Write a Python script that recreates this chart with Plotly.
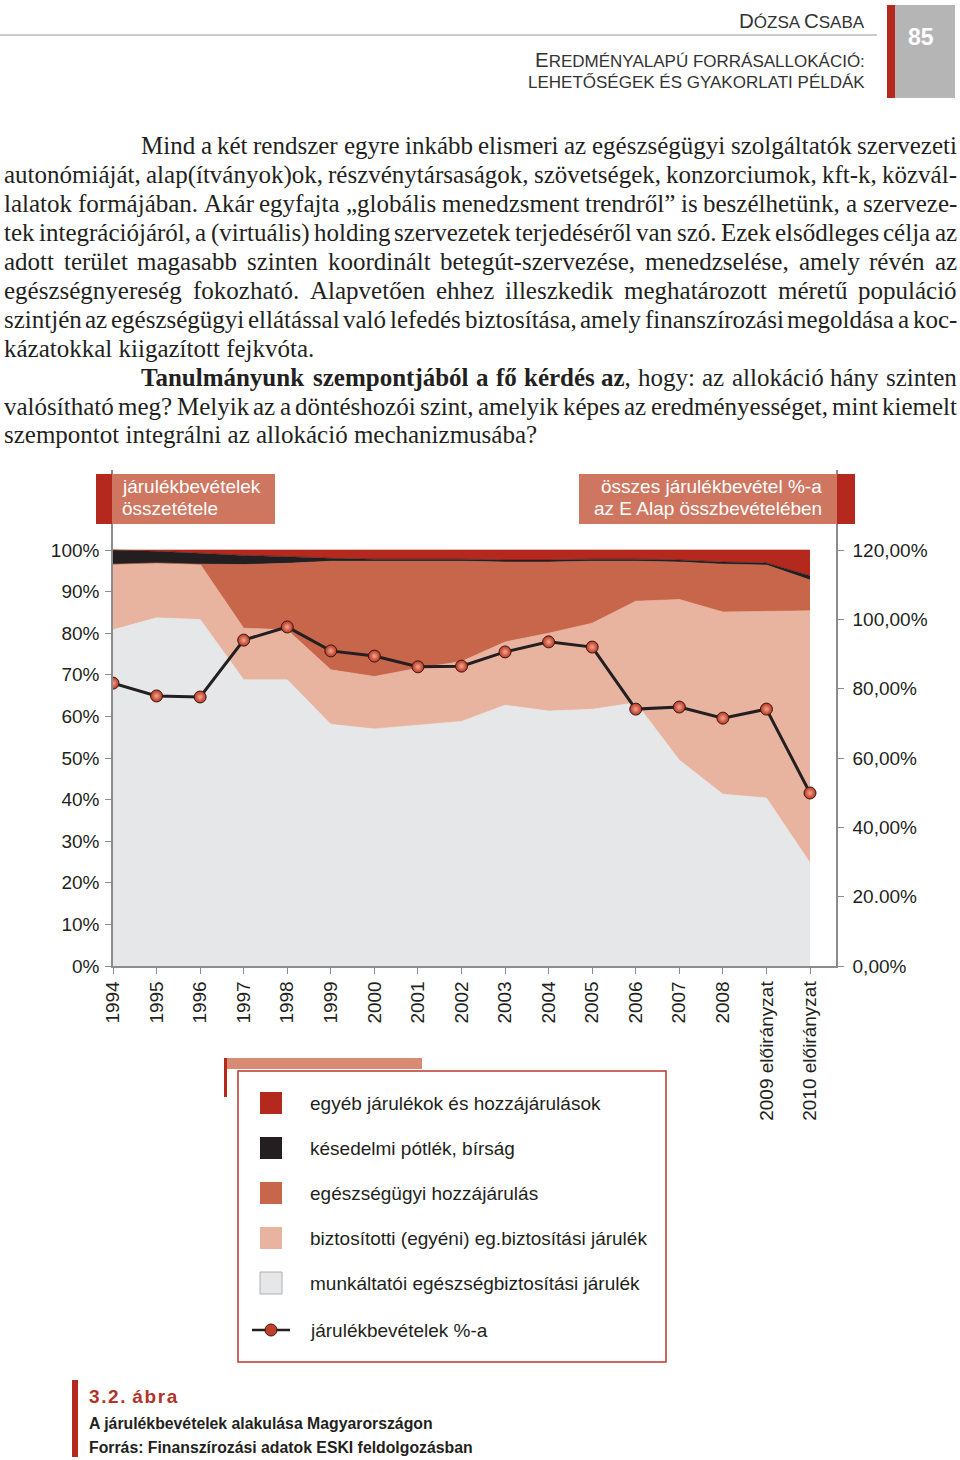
import unicodedata
import plotly.graph_objects as go

W, H = 960, 1460

# ---------------- data ----------------
years = ["1994", "1995", "1996", "1997", "1998", "1999", "2000", "2001", "2002",
         "2003", "2004", "2005", "2006", "2007", "2008",
         "2009 előirányzat", "2010 előirányzat"]
munkaltatoi = [80.8, 83.7, 83.3, 68.8, 68.8, 58.1, 57.0, 57.9, 58.8, 62.7, 61.3, 61.7, 63.3, 49.5, 41.3, 40.4, 24.8]
biztositotti = [15.8, 13.2, 13.3, 12.4, 12.0, 13.1, 12.6, 13.7, 14.4, 15.2, 18.7, 20.7, 24.4, 38.6, 43.8, 44.8, 60.6]
egeszsegugyi = [0.0, 0.0, 0.0, 15.3, 16.0, 26.1, 27.7, 25.7, 24.1, 19.2, 17.1, 14.9, 9.6, 9.0, 11.5, 11.2, 7.4]
kesedelmi = [3.4, 2.8, 2.6, 2.2, 1.6, 0.7, 0.5, 0.5, 0.5, 0.5, 0.5, 0.5, 0.5, 0.5, 0.5, 0.5, 1.0]
egyeb = [0.0, 0.3, 0.8, 1.3, 1.6, 2.0, 2.2, 2.2, 2.3, 2.4, 2.4, 2.3, 2.2, 2.4, 2.9, 3.1, 6.2]
jarulek_arany = [81.6, 77.9, 77.6, 94.0, 97.8, 90.9, 89.4, 86.3, 86.5, 90.6, 93.5, 92.0, 74.1, 74.7, 71.5, 74.1, 49.9]

left_tickvals = [0, 10, 20, 30, 40, 50, 60, 70, 80, 90, 100]
left_ticktext = ["0%", "10%", "20%", "30%", "40%", "50%", "60%", "70%", "80%", "90%", "100%"]
right_tickvals = [0, 20, 40, 60, 80, 100, 120]
right_ticktext = ["0,00%", "20.00%", "40,00%", "60,00%", "80,00%", "100,00%", "120,00%"]

series_names = ["munkáltatói egészségbiztosítási járulék",
                "biztosítotti (egyéni) eg.biztosítási járulék",
                "egészségügyi hozzájárulás",
                "késedelmi pótlék, bírság",
                "egyéb járulékok és hozzájárulások"]
line_name = "járulékbevételek %-a"

# ---------------- styles ----------------
C_GRAY = "#e6e7e9"
C_LSAL = "#e8b4a0"
C_DSAL = "#c8664b"
C_BLACK = "#231f20"
C_RED = "#b5281d"
C_BOX = "#cf7660"
C_TEXT = "#231f20"
C_AXIS = "#8c8c8c"
SANS = "Liberation Sans, Arial, sans-serif"
SERIF = "Liberation Serif, Times New Roman, serif"


def px(x):
    return x / W


def py(y):
    return 1 - y / H


fig = go.Figure()

layers = [munkaltatoi, biztositotti, egeszsegugyi, kesedelmi, egyeb]
colors = [C_GRAY, C_LSAL, C_DSAL, C_BLACK, C_RED]
for vals, col, nm in zip(layers, colors, series_names):
    fig.add_trace(go.Scatter(
        x=years, y=vals, name=nm, mode="lines", stackgroup="one",
        line=dict(width=0.6, color=col), fillcolor=col, showlegend=False,
        hoverinfo="skip"))

fig.add_trace(go.Scatter(
    x=years, y=jarulek_arany, name=line_name, yaxis="y2", mode="lines+markers",
    line=dict(color=C_BLACK, width=3),
    marker=dict(size=12, color="#b8321f", line=dict(color="#3b1a12", width=1),
                gradient=dict(type="radial", color="#f2a890")),
    showlegend=False))

x0, x1 = 113, 836
ytop, ybot = 470, 966
px_per_year = (810 - 113) / 16.0
px_per_pct = (966 - 550) / 100.0

tickfont = dict(family=SANS, size=19, color=C_TEXT)
fig.update_layout(
    width=W, height=H, margin=dict(l=0, r=0, t=0, b=0), autosize=False,
    paper_bgcolor="white", plot_bgcolor="rgba(0,0,0,0)",
    showlegend=False,
    xaxis=dict(type="category", domain=[px(x0), px(x1)],
               range=[0, (x1 - x0) / px_per_year],
               showline=True, linecolor=C_AXIS, linewidth=1.5,
               ticks="outside", ticklen=6, tickcolor=C_AXIS, tickwidth=1,
               tickangle=-90, tickfont=tickfont, showgrid=False, zeroline=False,
               automargin=False, anchor="y"),
    yaxis=dict(domain=[py(ybot), py(ytop)], range=[0, (ybot - ytop) / px_per_pct],
               tickvals=left_tickvals, ticktext=left_ticktext,
               showline=True, linecolor=C_AXIS, linewidth=1.5,
               ticks="outside", ticklen=6, tickcolor=C_AXIS, tickwidth=1,
               tickfont=tickfont, showgrid=False, zeroline=False,
               automargin=False, ticklabelstandoff=2),
    yaxis2=dict(overlaying="y", side="right", anchor="x",
                range=[0, (ybot - ytop) / px_per_pct * 1.2],
                tickvals=right_tickvals, ticktext=right_ticktext,
                showline=True, linecolor=C_AXIS, linewidth=1.5,
                ticks="outside", ticklen=6, tickcolor=C_AXIS, tickwidth=1,
                tickfont=tickfont, showgrid=False, zeroline=False,
                automargin=False, ticklabelstandoff=5),
)

shapes = []
annots = []


def rect(xa, ya, xb, yb, fill, line_color=None, lw=0):
    shapes.append(dict(type="rect", xref="paper", yref="paper",
                       x0=px(xa), x1=px(xb), y0=py(yb), y1=py(ya),
                       fillcolor=fill, line=dict(width=lw, color=line_color or fill),
                       layer="above"))


def text(x, y, s, size, color=C_TEXT, family=SANS, xanchor="left", yanchor="middle"):
    annots.append(dict(xref="paper", yref="paper", x=px(x), y=py(y), text=s,
                       showarrow=False, xanchor=xanchor, yanchor=yanchor,
                       borderpad=0, font=dict(family=family, size=size, color=color)))


# ---------------- header ----------------
shapes.append(dict(type="line", xref="paper", yref="paper", x0=0, x1=px(877),
                   y0=py(35), y1=py(35), line=dict(color="#9a9a9a", width=1)))
rect(895, 5, 955, 98, "#b5b5b5")
rect(887, 5, 895, 98, C_RED)
text(921, 37, "<b>85</b>", 23, color="white", xanchor="center")


def sc(big, small, bs=20.5, ss=17):
    return (f"<span style='font-size:{bs}px'>{big}</span>"
            f"<span style='font-size:{ss}px'>{small}</span>")


text(866, 21, sc("D", "ÓZSA") + " " + sc("C", "SABA"), 17, color="#333333", xanchor="right")
text(866, 59, sc("E", "REDMÉNYALAPÚ FORRÁSALLOKÁCIÓ:"), 17, color="#333333", xanchor="right")
text(866, 82, "LEHETŐSÉGEK ÉS GYAKORLATI PÉLDÁK", 17, color="#333333", xanchor="right")

# ---------------- body text (justified) ----------------
REG = {' ': 250, ',': 250, '.': 250, '-': 333, '(': 333, ')': 333, ':': 278, '?': 444,
       '„': 444, '”': 444,
       'A': 722, 'B': 667, 'C': 667, 'D': 722, 'E': 611, 'F': 556, 'G': 722, 'H': 722,
       'I': 333, 'J': 389, 'K': 722, 'L': 611, 'M': 889, 'N': 722, 'O': 722, 'P': 556,
       'Q': 722, 'R': 667, 'S': 556, 'T': 611, 'U': 722, 'V': 722, 'W': 944, 'X': 722,
       'Y': 722, 'Z': 611,
       'a': 444, 'b': 500, 'c': 444, 'd': 500, 'e': 444, 'f': 333, 'g': 500, 'h': 500,
       'i': 278, 'j': 278, 'k': 500, 'l': 278, 'm': 778, 'n': 500, 'o': 500, 'p': 500,
       'q': 500, 'r': 333, 's': 389, 't': 278, 'u': 500, 'v': 500, 'w': 722, 'x': 500,
       'y': 500, 'z': 444}
BOLD = dict(REG)
BOLD.update({':': 333, '?': 500, 'T': 667,
             'a': 500, 'b': 556, 'd': 556, 'h': 556, 'j': 333, 'k': 556, 'm': 833,
             'n': 556, 'p': 556, 'q': 556, 'r': 444, 't': 333, 'u': 556})


def cw(ch, bold):
    base = unicodedata.normalize("NFD", ch)[0]
    tab = BOLD if bold else REG
    return tab.get(base, 500) / 1000.0


def parse(line):
    out = []
    bold = False
    i = 0
    while i < len(line):
        if line.startswith("<b>", i):
            bold = True
            i += 3
            continue
        if line.startswith("</b>", i):
            bold = False
            i += 4
            continue
        out.append((line[i], bold))
        i += 1
    return out


def words_of(chars):
    ws, cur = [], []
    for ch, b in chars:
        if ch == ' ':
            if cur:
                ws.append(cur)
            cur = []
        else:
            cur.append((ch, b))
    if cur:
        ws.append(cur)
    return ws


def word_html(w):
    s = ""
    cur_b = None
    buf = ""
    for ch, b in w:
        if b != cur_b and buf:
            s += f"<b>{buf}</b>" if cur_b else buf
            buf = ""
        cur_b = b
        buf += ch
    if buf:
        s += f"<b>{buf}</b>" if cur_b else buf
    return s


BODY_SIZE = 25
body_lines = [
    (140, True, "Mind a két rendszer egyre inkább elismeri az egészségügyi szolgáltatók szervezeti"),
    (3, True, "autonómiáját, alap(ítványok)ok, részvénytársaságok, szövetségek, konzorciumok, kft-k, közvál-"),
    (3, True, "lalatok formájában. Akár egyfajta „globális menedzsment trendről” is beszélhetünk, a szerveze-"),
    (3, True, "tek integrációjáról, a (virtuális) holding szervezetek terjedéséről van szó. Ezek elsődleges célja az"),
    (3, True, "adott terület magasabb szinten koordinált betegút-szervezése, menedzselése, amely révén az"),
    (3, True, "egészségnyereség fokozható. Alapvetően ehhez illeszkedik meghatározott méretű populáció"),
    (3, True, "szintjén az egészségügyi ellátással való lefedés biztosítása, amely finanszírozási megoldása a koc-"),
    (3, False, "kázatokkal kiigazított fejkvóta."),
    (140, True, "<b>Tanulmányunk szempontjából a fő kérdés az</b>, hogy: az allokáció hány szinten"),
    (3, True, "valósítható meg? Melyik az a döntéshozói szint, amelyik képes az eredményességet, mint kiemelt"),
    (3, False, "szempontot integrálni az allokáció mechanizmusába?"),
]
RIGHT = 956
for i, (xs, just, line) in enumerate(body_lines):
    yc = 146 + 28.9 * i
    if not just:
        text(xs, yc, line, BODY_SIZE, family=SERIF)
        continue
    ws = words_of(parse(line))
    widths = [sum(cw(c, b) for c, b in w) * BODY_SIZE for w in ws]
    gap = (RIGHT - xs - sum(widths)) / (len(ws) - 1)
    xcur = xs
    for w, wd in zip(ws, widths):
        text(xcur, yc, word_html(w), BODY_SIZE, family=SERIF)
        xcur += wd + gap

# ---------------- chart title boxes ----------------
rect(96, 474, 112, 524, C_RED)
rect(112, 474, 275, 524, C_BOX)
text(121, 487, "járulékbevételek", 19, color="white")
text(121, 508, "összetétele", 19, color="white")
rect(579, 474, 837, 524, C_BOX)
rect(837, 474, 855, 524, C_RED)
text(823, 487, "összes járulékbevétel %-a", 19, color="white", xanchor="right")
text(823, 508, "az E Alap összbevételében", 19, color="white", xanchor="right")

# ---------------- legend ----------------
rect(225, 1058, 422, 1069, "#d98a72")
rect(224, 1058, 227, 1097, C_RED)
shapes.append(dict(type="rect", xref="paper", yref="paper", x0=px(238), x1=px(666),
                   y0=py(1362), y1=py(1071), fillcolor="rgba(0,0,0,0)",
                   line=dict(color="#b8392b", width=1.5), layer="above"))
legend_rows = [(series_names[4], C_RED), (series_names[3], C_BLACK),
               (series_names[2], C_DSAL), (series_names[1], C_LSAL),
               (series_names[0], C_GRAY)]
for k, (nm, col) in enumerate(legend_rows):
    yc = 1103 + 45 * k
    if col == C_GRAY:
        rect(260, yc - 11, 282, yc + 11, col, line_color="#b0b0b0", lw=1)
    else:
        rect(260, yc - 11, 282, yc + 11, col)
    text(309, yc, nm, 19)
shapes.append(dict(type="line", xref="paper", yref="paper", x0=px(252), x1=px(290),
                   y0=py(1330), y1=py(1330), line=dict(color=C_BLACK, width=2.5)))
shapes.append(dict(type="circle", xref="paper", yref="paper", x0=px(265), x1=px(277),
                   y0=py(1336), y1=py(1324), fillcolor="#c0402b",
                   line=dict(color="#3b1a12", width=1)))
text(309, 1330, line_name, 19)

# ---------------- caption ----------------
rect(72, 1380, 78, 1457, C_RED)
HAIR = "\u200a"
text(88, 1396, "<b>" + HAIR.join("3.2.") + HAIR + " " + HAIR.join("ábra") + "</b>", 19,
     color="#b0342a")
text(88, 1423, "<b>A járulékbevételek alakulása Magyarországon</b>", 15.8)
text(88, 1447, "<b>Forrás: Finanszírozási adatok ESKI feldolgozásban</b>", 15.8)

fig.update_layout(shapes=shapes, annotations=annots)
fig.write_html("out.html", include_plotlyjs=True, config={"displayModeBar": False},
               post_script="document.body.style.margin='0px';document.body.style.overflow='hidden';")
